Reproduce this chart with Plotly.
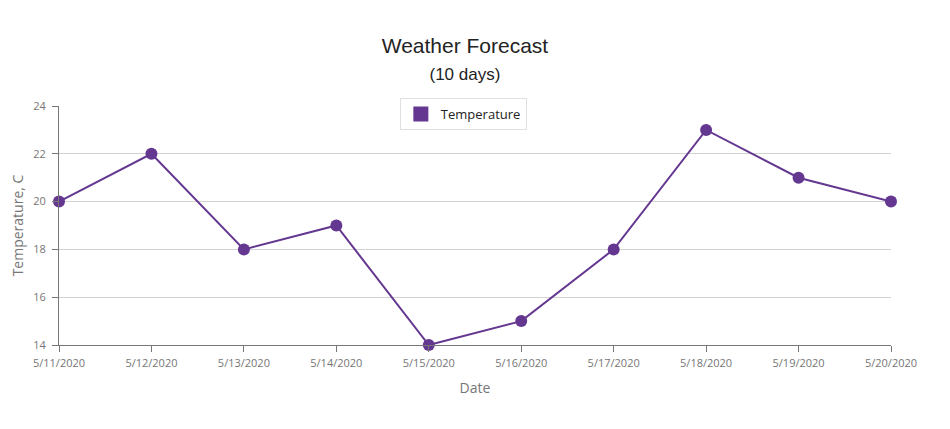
import plotly.graph_objects as go

dates = ["5/11/2020", "5/12/2020", "5/13/2020", "5/14/2020", "5/15/2020",
         "5/16/2020", "5/17/2020", "5/18/2020", "5/19/2020", "5/20/2020"]
temperature = [20, 22, 18, 19, 14, 15, 18, 23, 21, 20]
y_ticks = [14, 16, 18, 20, 22, 24]

color = "#643790"
label_color = "#767676"
ui_font = "Open Sans, Noto Sans, sans-serif"
tick_font = dict(family=ui_font, size=11, color=label_color)

fig = go.Figure()
fig.add_trace(go.Scatter(
    x=dates, y=temperature, mode="lines+markers", name="Temperature",
    line=dict(color=color, width=2),
    marker=dict(color=color, size=12),
    cliponaxis=False, showlegend=False,
))
fig.add_trace(go.Scatter(
    x=[None], y=[None], mode="markers", name="Temperature",
    marker=dict(color=color, size=15, symbol="square"),
    showlegend=True,
))

fig.update_layout(
    width=950, height=429,
    paper_bgcolor="white", plot_bgcolor="white",
    margin=dict(l=51, r=67, t=98, b=92, autoexpand=False),
    title=dict(
        text="Weather Forecast<br><span style='font-size:17px'>(10 days)</span>",
        x=0.481, xanchor="center", y=0.895, yanchor="middle",
        font=dict(family="Liberation Sans, Arial, sans-serif", size=21, color="#232323"),
    ),
    legend=dict(
        x=0.486, xanchor="center", y=1.0335, yanchor="top",
        orientation="h",
        bordercolor="#e0e0e0", borderwidth=1, bgcolor="white",
        font=dict(family=ui_font, size=13, color="#232323"),
    ),
    xaxis=dict(
        type="category", range=[0, 9],
        showgrid=False, showline=True, linecolor="#777777", linewidth=1,
        ticks="outside", ticklen=6, tickcolor="#777777",
        tickfont=tick_font, ticklabelstandoff=2,
        title=dict(text="Date", font=dict(family=ui_font, size=14, color=label_color), standoff=13),
    ),
    yaxis=dict(
        range=[14, 24], tickvals=y_ticks,
        showgrid=True, gridcolor="#d3d3d3", zeroline=False,
        showline=True, linecolor="#777777", linewidth=1,
        ticks="outside", ticklen=6, tickcolor="#777777",
        tickfont=tick_font, ticklabelstandoff=4,
        title=dict(text="Temperature, C", font=dict(family=ui_font, size=14, color=label_color), standoff=6),
    ),
)

fig.write_html("out.html")
